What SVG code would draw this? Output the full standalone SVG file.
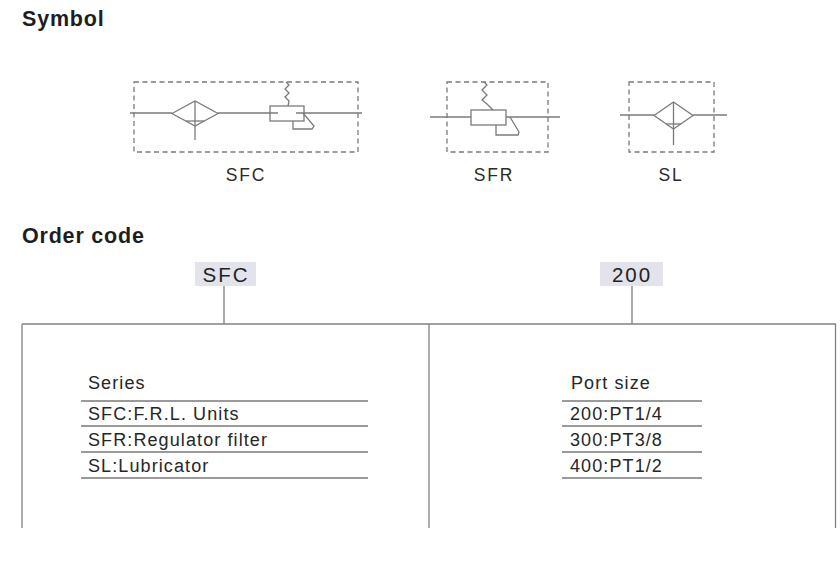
<svg xmlns="http://www.w3.org/2000/svg" width="840" height="563" viewBox="0 0 840 563">
<style>
.bg{fill:#ffffff}
.h{font-family:"Liberation Sans",Arial,sans-serif;font-weight:bold;font-size:21.5px;fill:#1e1e1e;letter-spacing:0.8px}
.lbl{font-family:"Liberation Sans",Arial,sans-serif;font-size:17.5px;fill:#2a2a2a;letter-spacing:1.8px;text-anchor:middle}
.t{font-family:"Liberation Sans",Arial,sans-serif;font-size:18px;fill:#262626;letter-spacing:1.1px}
.tag{font-family:"Liberation Sans",Arial,sans-serif;font-size:20.5px;fill:#222;letter-spacing:2px;text-anchor:middle}
.tagbg{fill:#e3e3ec}
.dash{fill:none;stroke:#7a7a7a;stroke-width:1.3;stroke-dasharray:5,3.5}
.sym{fill:none;stroke:#7a7a7a;stroke-width:1.3}
.ln{fill:none;stroke:#808080;stroke-width:1.3}
.rule{fill:none;stroke:#9a9a9a;stroke-width:1.8}
</style>
<rect class="bg" x="0" y="0" width="840" height="563"/>
<text class="h" x="22" y="26">Symbol</text>
<text class="h" x="22" y="243">Order code</text>

<g id="sym-sfc">
<rect class="dash" x="134" y="82" width="224" height="70"/>
<line class="sym" x1="130" y1="113" x2="172" y2="113"/>
<polygon class="sym" points="172,113.5 195,101 218,113.5 195,126"/>
<line class="sym" x1="195" y1="101" x2="195" y2="140"/>
<line class="sym" x1="186" y1="121" x2="204" y2="121"/>
<line class="sym" x1="218" y1="113" x2="278" y2="113"/>
<rect class="sym" x="270" y="106" width="34" height="15"/>
<line class="sym" x1="296" y1="113" x2="362" y2="113"/>
<polyline class="sym" points="286,82 289,85 285,89 289,93 285,97 289,101 288,106"/>
<polyline class="sym" points="303,113 314,126 312,129 293,129 293,121"/>
<text class="lbl" x="246" y="181">SFC</text>
</g>

<g id="sym-sfr">
<rect class="dash" x="447" y="82" width="101" height="70"/>
<line class="sym" x1="430" y1="117" x2="471" y2="117"/>
<rect class="sym" x="471" y="110" width="35" height="15"/>
<line class="sym" x1="506" y1="117" x2="560" y2="117"/>
<polyline class="sym" points="484,82 487,85 482,90 487,95 482,100 487,104 493,110"/>
<polyline class="sym" points="510,117 519,132 518,135 496,135 496,125"/>
<text class="lbl" x="494" y="181">SFR</text>
</g>

<g id="sym-sl">
<rect class="dash" x="629" y="82" width="85" height="70"/>
<line class="sym" x1="620" y1="115" x2="654" y2="115"/>
<polygon class="sym" points="654,115.5 673.5,102 693,115.5 673.5,129"/>
<line class="sym" x1="693" y1="115" x2="727" y2="115"/>
<line class="sym" x1="673.5" y1="102" x2="673.5" y2="145"/>
<line class="sym" x1="666" y1="124" x2="681" y2="124"/>
<text class="lbl" x="671" y="181">SL</text>
</g>

<g id="connectors">
<line class="ln" x1="224" y1="286" x2="224" y2="324"/>
<line class="ln" x1="632" y1="286" x2="632" y2="324"/>
<line class="ln" x1="22" y1="324" x2="836" y2="324"/>
<line class="ln" x1="22" y1="324" x2="22" y2="528"/>
<line class="ln" x1="429" y1="324" x2="429" y2="528"/>
<line class="ln" x1="835.5" y1="324" x2="835.5" y2="528"/>
</g>

<g id="tag-sfc">
<rect class="tagbg" x="195" y="262" width="61" height="24"/>
<text class="tag" x="226" y="282">SFC</text>
</g>

<g id="tag-200">
<rect class="tagbg" x="600" y="262" width="63" height="24"/>
<text class="tag" x="632" y="282">200</text>
</g>

<g id="series">
<text class="t" x="88" y="389">Series</text>
<line class="rule" x1="81" y1="401" x2="368" y2="401"/>
<text class="t" x="88" y="420">SFC:F.R.L. Units</text>
<line class="rule" x1="81" y1="426" x2="368" y2="426"/>
<text class="t" x="88" y="446">SFR:Regulator filter</text>
<line class="rule" x1="81" y1="452" x2="368" y2="452"/>
<text class="t" x="88" y="472">SL:Lubricator</text>
<line class="rule" x1="81" y1="478" x2="368" y2="478"/>
</g>

<g id="port-size">
<text class="t" x="571" y="389">Port size</text>
<line class="rule" x1="562" y1="401" x2="702" y2="401"/>
<text class="t" x="570" y="420">200:PT1/4</text>
<line class="rule" x1="562" y1="426" x2="702" y2="426"/>
<text class="t" x="570" y="446">300:PT3/8</text>
<line class="rule" x1="562" y1="452" x2="702" y2="452"/>
<text class="t" x="570" y="472">400:PT1/2</text>
<line class="rule" x1="562" y1="478" x2="702" y2="478"/>
</g>
</svg>
